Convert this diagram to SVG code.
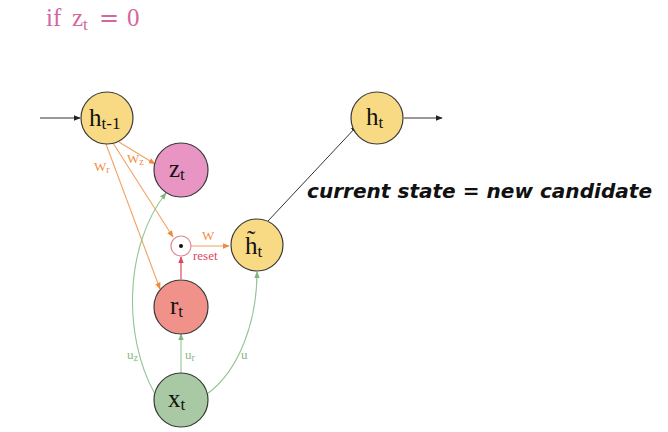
<svg xmlns="http://www.w3.org/2000/svg" width="668" height="432" viewBox="0 0 668 432">
<style>
.node{stroke:#3a3a3a;stroke-width:1.2}
.lbl{font-family:"Liberation Serif","DejaVu Serif",serif;fill:#111;font-size:25px}
.sub{font-size:17px}
.or{stroke:#f2a263;stroke-width:1.1;fill:none}
.gr{stroke:#93c493;stroke-width:1.1;fill:none}
.bk{stroke:#333;stroke-width:1;fill:none}
.rd{stroke:#e0455f;stroke-width:1.2;fill:none}
.ol{font-family:"Liberation Serif",serif;font-size:13px;fill:#ef8f45}
.gl{font-family:"Liberation Serif",serif;font-size:13px;fill:#86b686}
</style>
<defs>
<marker id="mo" viewBox="0 0 10 10" refX="9" refY="5" markerWidth="7" markerHeight="7" markerUnits="userSpaceOnUse" orient="auto"><path d="M0,1 L10,5 L0,9 z" fill="#f08a3c"/></marker>
<marker id="mg" viewBox="0 0 10 10" refX="9" refY="5" markerWidth="7" markerHeight="7" markerUnits="userSpaceOnUse" orient="auto"><path d="M0,1 L10,5 L0,9 z" fill="#7fb67f"/></marker>
<marker id="mk" viewBox="0 0 10 10" refX="9" refY="5" markerWidth="7" markerHeight="7" markerUnits="userSpaceOnUse" orient="auto"><path d="M0,1 L10,5 L0,9 z" fill="#222"/></marker>
<marker id="mr" viewBox="0 0 10 10" refX="9" refY="5" markerWidth="7" markerHeight="7" markerUnits="userSpaceOnUse" orient="auto"><path d="M0,1 L10,5 L0,9 z" fill="#e0455f"/></marker>
</defs>

<text x="46" y="26" font-family="Liberation Serif,serif" font-size="25" fill="#d466a0">if<tspan x="72">z</tspan><tspan font-size="17" dy="4">t</tspan><tspan x="99" dy="-4" font-family="DejaVu Serif,serif" font-size="24">=</tspan><tspan x="127">0</tspan></text>

<g id="connectors">
<line class="bk" x1="40" y1="118" x2="80" y2="118" marker-end="url(#mk)"/>
<line class="bk" x1="404" y1="118" x2="442" y2="118" marker-end="url(#mk)"/>
<line class="bk" x1="268" y1="221" x2="357" y2="126" marker-end="url(#mk)"/>
<line class="or" x1="119" y1="142" x2="155" y2="164" marker-end="url(#mo)"/>
<line class="or" x1="113" y1="143" x2="173" y2="237" marker-end="url(#mo)"/>
<line class="or" x1="106" y1="144" x2="160" y2="289" marker-end="url(#mo)"/>
<line class="or" x1="191" y1="246" x2="229" y2="246" marker-end="url(#mo)"/>
<line class="rd" x1="181" y1="279" x2="181" y2="257" marker-end="url(#mr)"/>
<line class="gr" x1="181" y1="373" x2="181" y2="334" marker-end="url(#mg)"/>
<path class="gr" d="M155,394 C122,335 125,245 166,193" marker-end="url(#mg)"/>
<path class="gr" d="M207,394 C240,370 257,320 257,272" marker-end="url(#mg)"/>
<text class="ol" x="127" y="163">W<tspan font-size="10" dy="2">z</tspan></text>
<text class="ol" x="94" y="171">W<tspan font-size="10" dy="2">r</tspan></text>
<text class="ol" x="202" y="240">W</text>
<text x="193" y="260" font-family="Liberation Serif,serif" font-size="13" fill="#e0455f">reset</text>
<text class="gl" x="127" y="359">u<tspan font-size="10" dy="2">z</tspan></text>
<text class="gl" x="185" y="359">u<tspan font-size="10" dy="2">r</tspan></text>
<text class="gl" x="241" y="359">u</text>
</g>

<g id="h_prev"><circle class="node" cx="107" cy="118" r="26" fill="#f8da84"/><text class="lbl" x="89" y="126">h<tspan class="sub" dy="3">t-1</tspan></text></g>
<g id="z_t"><circle class="node" cx="181" cy="170" r="27" fill="#e995c4"/><text class="lbl" x="169" y="177">z<tspan class="sub" dy="3">t</tspan></text></g>
<g id="mult"><circle cx="181" cy="246" r="10" fill="#fff" stroke="#e38a94" stroke-width="1.2"/><circle cx="181" cy="246" r="2" fill="#111"/></g>
<g id="h_cand"><circle class="node" cx="257" cy="245" r="26" fill="#f8da84"/><text class="lbl" x="245" y="254">h&#x303;<tspan class="sub" dy="3">t</tspan></text></g>
<g id="r_t"><circle class="node" cx="181" cy="307" r="27" fill="#f0918a"/><text class="lbl" x="170" y="314">r<tspan class="sub" dy="3">t</tspan></text></g>
<g id="x_t"><circle class="node" cx="181" cy="400" r="27" fill="#a9c9a4"/><text class="lbl" x="168" y="407">x<tspan class="sub" dy="3">t</tspan></text></g>
<g id="h_t"><circle class="node" cx="377" cy="118" r="26" fill="#f8da84"/><text class="lbl" x="366" y="125">h<tspan class="sub" dy="3">t</tspan></text></g>

<text x="307" y="198" font-family="DejaVu Sans,sans-serif" font-weight="bold" font-style="italic" font-size="19" textLength="345" lengthAdjust="spacingAndGlyphs" fill="#111">current state = new candidate</text>
</svg>
